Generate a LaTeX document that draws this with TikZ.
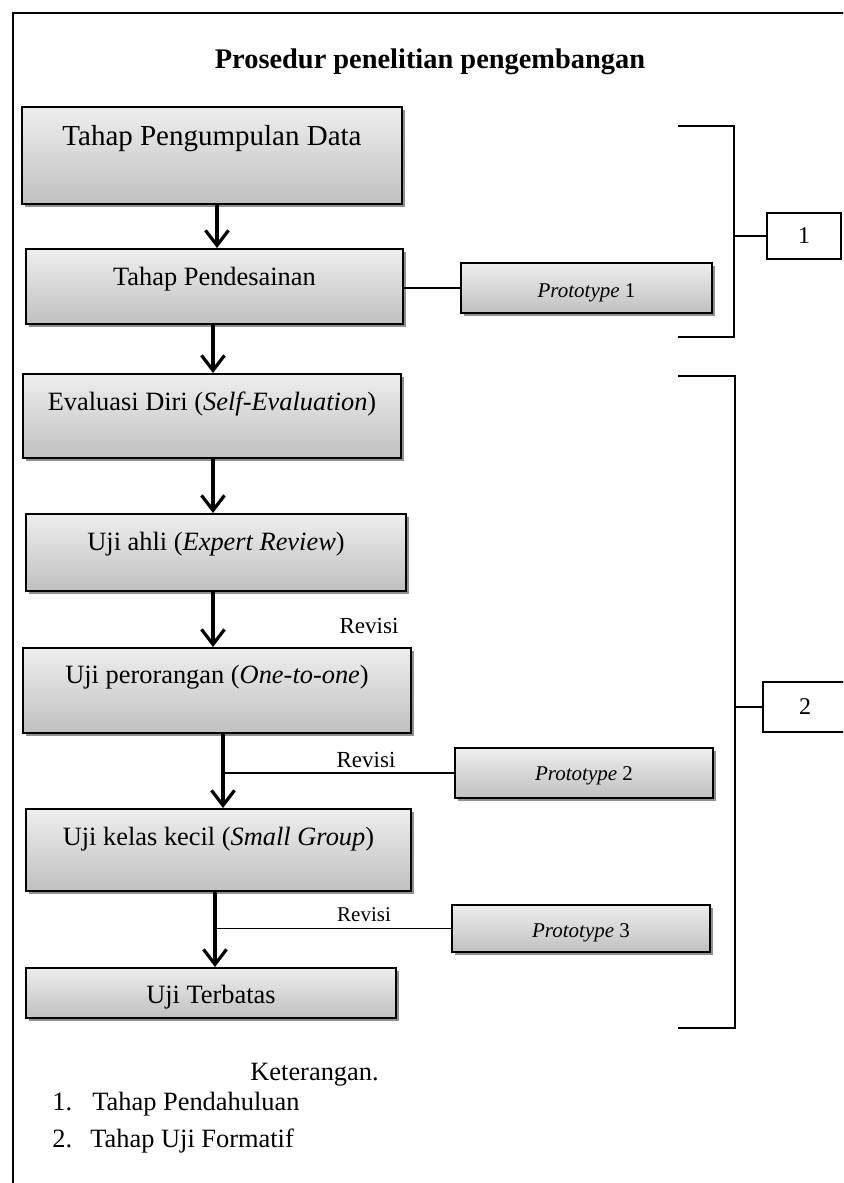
\documentclass[tikz,border=0pt]{standalone}
\usepackage{fontspec}
\setmainfont{Liberation Serif}
\usepackage{xcolor}
\usepackage{tikz}
\usetikzlibrary{arrows.meta,shadows}
\definecolor{abuatas}{HTML}{EEEEEE}
\definecolor{abubawah}{HTML}{C0C0C0}
\definecolor{bayangan}{HTML}{909090}
\newcommand{\hurufjudul}{\fontsize{14.2pt}{17pt}\selectfont\bfseries}
\newcommand{\hurufbesar}{\fontsize{14.5pt}{17pt}\selectfont}
\newcommand{\hurufkotak}{\fontsize{13.2pt}{16pt}\selectfont}
\newcommand{\hurufrevisi}{\fontsize{11.5pt}{14pt}\selectfont}
\newcommand{\hurufproto}{\fontsize{10.5pt}{12pt}\selectfont}
\newcommand{\hurufnomor}{\fontsize{12pt}{14pt}\selectfont}
\tikzset{
  tahap/.style={draw=black,line width=1pt,top color=abuatas,bottom color=abubawah,
    drop shadow={shadow xshift=1.3pt,shadow yshift=-1.3pt,fill=bayangan,opacity=1},
    inner sep=0pt,align=center,font=\hurufkotak},
  prototipe/.style={tahap,font=\hurufproto},
  nomor/.style={draw=black,line width=0.8pt,fill=white,inner sep=0pt,font=\hurufnomor},
  panah/.style={line width=1.6pt,-{Straight Barb[length=7.5pt,width=11.5pt]}},
  garis/.style={line width=0.7pt},
  kurung/.style={line width=1pt},
  teks/.style={inner sep=0pt,font=\hurufkotak}
}

\begin{document}
\begin{tikzpicture}[x=0.5pt,y=-0.5pt]
        \useasboundingbox (0,0) rectangle (843,1183);
        \clip (0,0) rectangle (843,1183);
        \draw[line width=1pt] (13,1200) |- (860,13);
        \node[anchor=base,inner sep=0pt,font=\hurufjudul] (judul) at (430,68) {Prosedur penelitian pengembangan};

        \node[tahap,minimum width=190pt,text height=19pt,text depth=29.5pt,
          font=\hurufbesar] (kumpul) at (212,155.5) {Tahap Pengumpulan Data};
        \node[tahap,minimum width=188.5pt,text height=18pt,text depth=19.5pt]
          (desain) at (214.5,286.5) {Tahap Pendesainan};
        \node[tahap,minimum width=189pt,text height=18pt,text depth=24pt]
          (evaluasi) at (212,416) {Evaluasi Diri (\textit{Self-Evaluation})};
        \node[tahap,minimum width=190pt,text height=18pt,text depth=20.5pt]
          (ahli) at (216,552.5) {Uji ahli (\textit{Expert Review})};
        \node[tahap,minimum width=194pt,text height=17.5pt,text depth=25pt]
          (perorangan) at (217,690.5) {Uji perorangan (\textit{One-to-one})};
        \node[tahap,minimum width=192.5pt,text height=18pt,text depth=23pt]
          (kecil) at (218.5,850) {Uji kelas kecil (\textit{Small Group})};
        \node[tahap,minimum width=185pt,text height=17.5pt,text depth=7.5pt]
          (terbatas) at (211,993) {Uji Terbatas};

        \node[prototipe,minimum width=125.5pt,text height=17pt,text depth=8pt]
          (proto1) at (586.5,288) {\textit{Prototype} 1};
        \node[prototipe,minimum width=129pt,text height=16pt,text depth=9pt]
          (proto2) at (584,773) {\textit{Prototype} 2};
        \node[prototipe,minimum width=129pt,text height=16pt,text depth=7.5pt]
          (proto3) at (581,928.5) {\textit{Prototype} 3};

        \node[anchor=base,inner sep=0pt,font=\hurufrevisi] (revisi1) at (369,633) {Revisi};
        \node[anchor=base,inner sep=0pt,font=\hurufrevisi] (revisi2) at (366,767) {Revisi};
        \node[anchor=base,inner sep=0pt,font=\hurufproto] (revisi3) at (364,921) {Revisi};

        \node[nomor,minimum width=37pt,minimum height=23pt] (nomor1) at (804,236) {1};
        \node[nomor,minimum width=42pt,minimum height=25pt] (nomor2) at (805,707) {2};

        \draw[panah] ([xshift=2.5pt]kumpul.south) -- ([xshift=2.5pt]kumpul.south |- desain.north);
        \draw[panah] ([xshift=-0.75pt]desain.south) -- ([xshift=-0.75pt]desain.south |- evaluasi.north);
        \draw[panah] ([xshift=0.5pt]evaluasi.south) -- ([xshift=0.5pt]evaluasi.south |- ahli.north);
        \draw[panah] ([xshift=-1.5pt]ahli.south) -- ([xshift=-1.5pt]ahli.south |- perorangan.north);
        \draw[panah] ([xshift=3pt]perorangan.south) -- ([xshift=3pt]perorangan.south |- kecil.north);
        \draw[panah] ([xshift=-1.75pt]kecil.south) -- ([xshift=-1.75pt]kecil.south |- terbatas.north);

        \draw[garis] (desain.east |- proto1.west) -- (proto1.west);
        \draw[garis] ([xshift=3pt]perorangan.south |- proto2.west) -- (proto2.west);
        \draw[garis] ([xshift=-1.75pt]kecil.south |- proto3.west) -- (proto3.west);

        \coordinate (kurung1atas) at (734,126);
        \coordinate (kurung1bawah) at (734,337);
        \coordinate (kurung2atas) at (735,376);
        \coordinate (kurung2bawah) at (735,1028);
        \draw[kurung] ([xshift=-28pt]kurung1atas) -- (kurung1atas) -- (kurung1bawah) -- ([xshift=-28pt]kurung1bawah);
        \draw[kurung] (kurung1atas |- nomor1.west) -- (nomor1.west);
        \draw[kurung] ([xshift=-28.5pt]kurung2atas) -- (kurung2atas) -- (kurung2bawah) -- ([xshift=-28.5pt]kurung2bawah);
        \draw[kurung] (kurung2atas |- nomor2.west) -- (nomor2.west);

        \node[teks,anchor=base west] (keterangan) at (250,1080) {Keterangan.};
        \node[teks,anchor=base west] (no1) at (52,1110) {1.};
        \node[teks,anchor=base west] (ket1) at (92,1110) {Tahap Pendahuluan};
        \node[teks,anchor=base west] (no2) at (52,1147) {2.};
        \node[teks,anchor=base west] (ket2) at (90,1147) {Tahap Uji Formatif};
      \end{tikzpicture}
\end{document}
